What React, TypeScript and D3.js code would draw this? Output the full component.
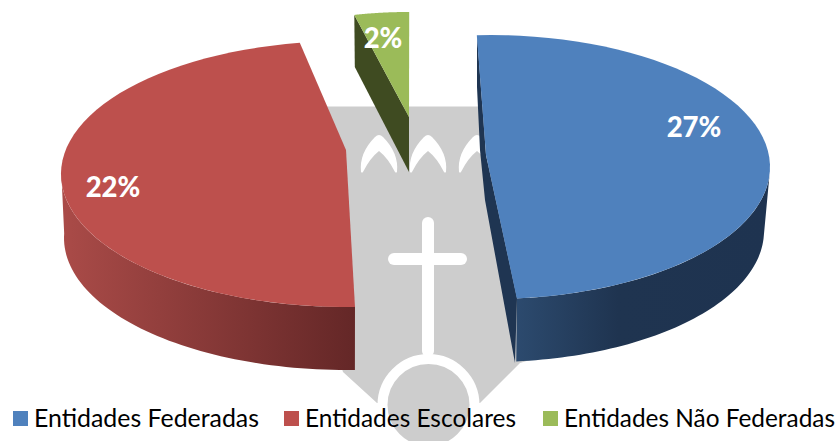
import React from "react";
import * as d3 from "d3";

const sliceNames = ["Entidades Federadas", "Entidades Escolares", "Entidades Não Federadas"];
const sliceValues = [27, 22, 2];
const sliceLabels = ["27%", "22%", "2%"];
const sliceColors = ["#4f81bd", "#bd504d", "#9bbb59"];

const W = 839, H = 441;
const rad = (d: number) => (d * Math.PI) / 180;

// how each slice of the exploded, tilted pie appears in the picture
const views = [
  { cx: 490, cy: 167, rx: 280, ry: 132, apex: [486, 155], from: -2.7, to: 174.5, depth: 64, shrink: 6, sideFrom: 92, sideTo: 174.5, label: [694, 126] },
  { cx: 347, cy: 174, rx: 286, ry: 133, apex: [346, 150], from: 178.4, to: 350.5, depth: 64, shrink: 3, sideFrom: 178.4, sideTo: 272, label: [113, 186] },
  { cx: 408, cy: 117, rx: 230, ry: 105, apex: [409, 117], from: -13.5, to: 0.3, depth: 55, shrink: 0, sideFrom: 0, sideTo: 0, label: [383, 37] },
];
const sideStops = [
  [[0, "#2c4a6e"], [0.4, "#1f3450"], [1, "#1e3350"]],
  [[0, "#642727"], [1, "#aa4b48"]],
  [[0, "#3f4b21"], [1, "#3f4b21"]],
];
const sideSpan = [[517, 770], [355, 62], [356, 410]];

const legendX = [13, 284, 543];
const legendWidths = [225, 211, 271];

const pieGen = d3.pie<number>().sort(null).startAngle(0).endAngle(2 * Math.PI);
const line = d3.line<number[]>();

function arcPoints(v: any, a0: number, a1: number, dy = 0, shrink = 0) {
  const t = d3.scaleLinear().domain([0, 60]).range([a0, a1]);
  return d3.range(61).map((i) => {
    const a = rad(t(i));
    return [v.cx + (v.rx - shrink) * Math.sin(a), v.cy + dy - (v.ry - (shrink ? 1 : 0)) * Math.cos(a)];
  });
}

function chevron(c: number) {
  return `M${c - 18} 172 Q${c - 20} 153 ${c - 4} 137 Q${c} 133 ${c + 4} 137 Q${c + 20} 153 ${c + 18} 172 Q${c + 17} 173 ${c + 16} 172 Q${c + 9} 158 ${c} 151 Q${c - 9} 158 ${c - 16} 172 Q${c - 17} 173 ${c - 18} 172 Z`;
}

export default function App() {
  const arcs = pieGen(sliceValues);
  const font = "Lato, 'Open Sans', sans-serif";
  return (
    <svg width={W} height={H} viewBox={`0 0 ${W} ${H}`} style={{ position: "absolute", left: 0, top: 0, background: "#fff" }}>
      <defs>
        {views.map((v, i) => (
          <linearGradient key={i} id={`side${i}`} gradientUnits="userSpaceOnUse"
            x1={sideSpan[i][0]} x2={sideSpan[i][1]} y1="0" y2="0">
            {sideStops[i].map((s, j) => <stop key={j} offset={s[0] as number} stopColor={s[1] as string} />)}
          </linearGradient>
        ))}
      </defs>

      {/* watermark crest */}
      <path d="M320 106.5H530V360L520 363L480 403H377L343 372L320 300Z" fill="#cdcdcd" />
      <circle cx={428.5} cy={405} r={46} fill="#cdcdcd" stroke="#fff" strokeWidth={10} />
      <rect x={422} y={217} width={12} height={140} rx={6} fill="#fff" />
      <rect x={388} y={253} width={79} height={12} rx={6} fill="#fff" />
      {[379, 428, 477].map((c) => <path key={c} d={chevron(c)} fill="#fff" />)}

      {views.map((v, i) => {
        const share = arcs[i];
        const sweep = d3.scaleLinear().domain([share.startAngle, share.endAngle]).range([v.from, v.to]);
        const top = arcPoints(v, sweep(share.startAngle), sweep(share.endAngle));
        const apex = v.apex;
        return (
          <g key={sliceNames[i]}>
            {v.sideTo > v.sideFrom && (
              <path
                d={line([...arcPoints(v, v.sideFrom, v.sideTo), ...arcPoints(v, v.sideTo, v.sideFrom, v.depth, v.shrink)])! + "Z"}
                fill={`url(#side${i})`}
              />
            )}
            {i === 0 && (
              <path d={line([[477, 35], [477, 87], [480, 150], [485, 200], [515, 363], [517, 298], apex])! + "Z"} fill="#1f3552" />
            )}
            {i === 2 && (
              <path d={line([top[0], [top[0][0] + 0.5, top[0][1] + 52], [apex[0], apex[1] + v.depth], apex])! + "Z"} fill="#3f4b21" />
            )}
            <path d={line([...top, apex])! + "Z"} fill={sliceColors[i]} />
            <text x={v.label[0]} y={v.label[1]} textAnchor="middle" dominantBaseline="central"
              fontFamily={font} fontWeight={900} fontSize={27.5} fill="#fff">{sliceLabels[i]}</text>
          </g>
        );
      })}

      {sliceNames.map((n, i) => (
        <g key={n}>
          <rect x={legendX[i]} y={411} width={15} height={15} fill={sliceColors[i]} />
          <text x={legendX[i] + 21} y={427} fontFamily={font} fontSize={24.5} fill="#000"
            textLength={legendWidths[i]} lengthAdjust="spacingAndGlyphs">{n}</text>
        </g>
      ))}
    </svg>
  );
}
